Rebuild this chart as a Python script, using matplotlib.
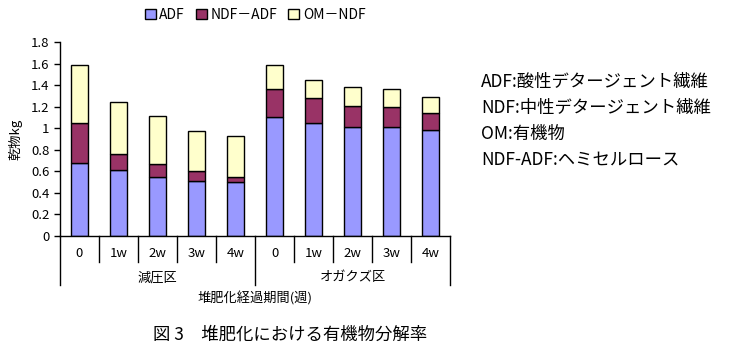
import matplotlib.pyplot as plt
import numpy as np
from matplotlib.ticker import FormatStrFormatter

plt.rcParams['font.family'] = ['Noto Sans CJK JP', 'DejaVu Sans']

# データ
weeks = ['0', '1w', '2w', '3w', '4w', '0', '1w', '2w', '3w', '4w']
groups = ['減圧区', 'オガクズ区']
adf = [0.68, 0.61, 0.55, 0.51, 0.50, 1.10, 1.05, 1.01, 1.01, 0.98]
ndf_adf = [0.37, 0.15, 0.12, 0.09, 0.05, 0.26, 0.23, 0.20, 0.19, 0.16]
om_ndf = [0.54, 0.48, 0.44, 0.37, 0.38, 0.23, 0.17, 0.17, 0.16, 0.15]
notes = ['ADF:酸性デタージェント繊維', 'NDF:中性デタージェント繊維',
         'OM:有機物', 'NDF-ADF:ヘミセルロース']

fig = plt.figure(figsize=(7.36, 3.55), dpi=100)
ax = fig.add_axes([60/736, 1-236/355, 390/736, 194/355])

x = np.arange(len(weeks))
w = 0.42
b1 = ax.bar(x, adf, w, color='#9999FF', edgecolor='black', linewidth=1, label='ADF')
b2 = ax.bar(x, ndf_adf, w, bottom=adf, color='#993366', edgecolor='black', linewidth=1, label='NDF－ADF')
bot = np.array(adf) + np.array(ndf_adf)
b3 = ax.bar(x, om_ndf, w, bottom=bot, color='#FFFFCC', edgecolor='black', linewidth=1, label='OM－NDF')

ax.set_xlim(-0.5, 9.5)
ax.set_ylim(0, 1.8)
ax.set_yticks(np.arange(0, 1.81, 0.2))
ax.yaxis.set_major_formatter(FormatStrFormatter('%g'))
ax.tick_params(axis='y', labelsize=9.5, direction='out', length=4, width=1)
ax.set_xticks([])
ax.spines['top'].set_visible(False)
ax.spines['right'].set_visible(False)
ax.spines['left'].set_linewidth(1)
ax.spines['bottom'].set_linewidth(1)
ax.set_ylabel('乾物kg', fontsize=9.5, labelpad=6)

# 区切り線とカテゴリ名
tr = ax.get_xaxis_transform()
for i in range(11):
    xb = i - 0.5
    low = -0.253 if i in (0, 5, 10) else -0.134
    ax.plot([xb, xb], [0, low], color='black', lw=1, transform=tr, clip_on=False)
for i, lab in enumerate(weeks):
    ax.text(i, -0.088, lab, transform=tr, ha='center', va='center', fontsize=9.5)
for j, g in enumerate(groups):
    ax.text(2 + 5*j, -0.216, g, transform=tr, ha='center', va='center', fontsize=9.5)

fig.text(255/736, 1-298/355, '堆肥化経過期間(週)', ha='center', va='center', fontsize=9.5)
fig.text(290/736, 1-335/355, '図 3　堆肥化における有機物分解率', ha='center', va='center', fontsize=12.5)

for k, t in enumerate(notes):
    fig.text(481/736, 1-(82 + 26*k)/355, t, ha='left', va='center', fontsize=12.5)

fig.legend(handles=[b1, b2, b3], loc='center', bbox_to_anchor=(255/736, 1-15/355), ncol=3,
           frameon=False, fontsize=10, handlelength=0.8, handleheight=0.8,
           handletextpad=0.25, columnspacing=0.8)

plt.savefig('out.png', dpi=100)
